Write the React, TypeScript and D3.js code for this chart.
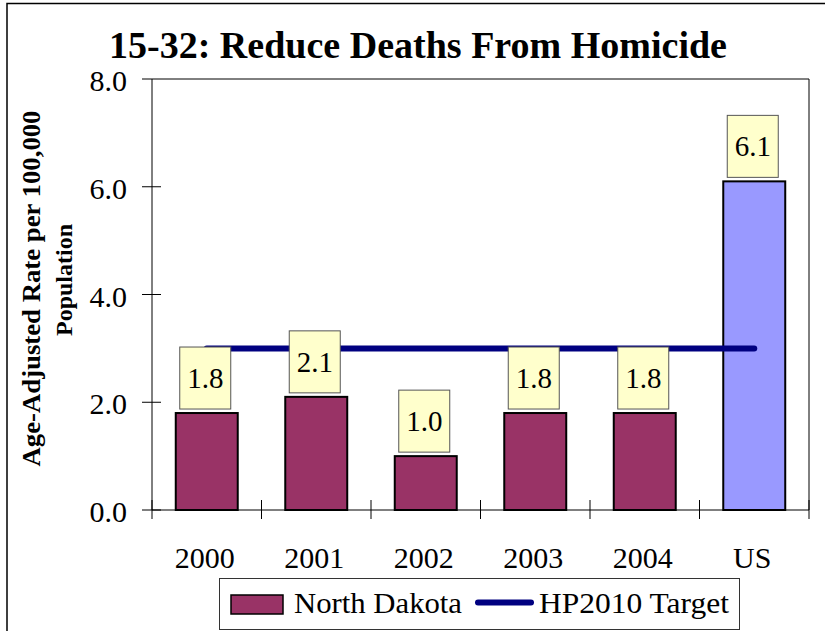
import React from "react";
import * as d3 from "d3";

const categories = ["2000", "2001", "2002", "2003", "2004", "US"];
const rates = [1.8, 2.1, 1.0, 1.8, 1.8, 6.1];
const targetRates = [3.0, 3.0, 3.0, 3.0, 3.0, 3.0];
const yTicks = [0, 2, 4, 6, 8];
const seriesNames = ["North Dakota", "HP2010 Target"];

const width = 825;
const height = 631;
const margin = { top: 79, right: 16, bottom: 121, left: 152 };

const serif = "'Liberation Serif', 'Times New Roman', serif";
const ndColor = "#993366";
const usColor = "#9999ff";
const targetColor = "#000080";

const App = () => {
    const x = d3
        .scaleBand<string>()
        .domain(categories)
        .range([margin.left, width - margin.right])
        .paddingInner(0.434)
        .paddingOuter(0.217);

    const y = d3
        .scaleLinear()
        .domain([0, 8])
        .range([height - margin.bottom, margin.top]);

    const gap = (x.step() - x.bandwidth()) / 2;
    const bounds = categories.map((c) => (x(c) || 0) - gap);
    bounds.push(width - margin.right);

    const y0 = y(0);
    const targetLine = d3
        .line<number>()
        .x((d, i) => (x(categories[i]) || 0) + x.bandwidth() / 2)
        .y((d) => y(d));

    return (
        <svg
            width={width}
            height={height}
            style={{ position: "absolute", left: 0, top: 0, background: "#fff" }}
            fontFamily={serif}
        >
            {/* outer frame */}
            <rect x={7} y={3.5} width={840} height={660} fill="none" stroke="#000" strokeWidth={1.5} />

            <text x={418} y={58} textAnchor="middle" fontSize={38.5} fontWeight="bold" textLength={618} lengthAdjust="spacingAndGlyphs">
                15-32: Reduce Deaths From Homicide
            </text>

            {/* y axis title */}
            <text
                transform="translate(40,288.5) rotate(-90)"
                textAnchor="middle"
                fontSize={25}
                fontWeight="bold"
                textLength={356}
                lengthAdjust="spacingAndGlyphs"
            >
                Age-Adjusted Rate per 100,000
            </text>
            <text
                transform="translate(72,280) rotate(-90)"
                textAnchor="middle"
                fontSize={24}
                fontWeight="bold"
            >
                Population
            </text>

            {/* plot frame top / right */}
            <line x1={margin.left} x2={width - margin.right} y1={y(8)} y2={y(8)} stroke="#000" />
            <line x1={width - margin.right} x2={width - margin.right} y1={y(8)} y2={y0} stroke="#000" />

            {/* y axis */}
            <line x1={margin.left} x2={margin.left} y1={y(8)} y2={y0} stroke="#000" />
            {yTicks.map((t) => (
                <g key={t}>
                    <line x1={margin.left - 10} x2={margin.left + (t === 8 ? 0 : 9)} y1={y(t)} y2={y(t)} stroke="#000" />
                    <text x={127} y={y(t) + 12} textAnchor="end" fontSize={30}>
                        {t.toFixed(1)}
                    </text>
                </g>
            ))}

            {/* bars */}
            {categories.map((c, i) => (
                <rect
                    key={c}
                    x={x(c)}
                    y={y(rates[i])}
                    width={x.bandwidth()}
                    height={y0 - y(rates[i])}
                    fill={c === "US" ? usColor : ndColor}
                    stroke="#000"
                    strokeWidth={2}
                />
            ))}

            {/* x axis */}
            <line x1={margin.left} x2={width - margin.right} y1={y0} y2={y0} stroke="#000" />
            {bounds.map((b, i) => (
                <line key={i} x1={b} x2={b} y1={y0 - 10} y2={y0 + 9} stroke="#000" />
            ))}
            {categories.map((c) => (
                <text
                    key={c}
                    x={(x(c) || 0) + x.bandwidth() / 2 - 2}
                    y={568}
                    textAnchor="middle"
                    fontSize={30}
                >
                    {c}
                </text>
            ))}

            {/* target line */}
            <path
                d={targetLine(targetRates) || ""}
                fill="none"
                stroke={targetColor}
                strokeWidth={6}
                strokeLinecap="round"
            />

            {/* value labels */}
            {categories.map((c, i) => {
                const cx = (x(c) || 0) + x.bandwidth() / 2 - 1.5;
                const bottom = y(rates[i]) - 4;
                return (
                    <g key={c}>
                        <rect
                            x={cx - 25.5}
                            y={bottom - 62}
                            width={51}
                            height={62}
                            fill="#ffffcc"
                            stroke="#555"
                            strokeWidth={1}
                        />
                        <text x={cx} y={bottom - 21} textAnchor="middle" fontSize={29}>
                            {rates[i].toFixed(1)}
                        </text>
                    </g>
                );
            })}

            {/* legend */}
            <rect x={219.5} y={578.5} width={520} height={51} fill="#fff" stroke="#333" strokeWidth={1} />
            <rect x={231} y={595} width={52} height={19} fill={ndColor} stroke="#000" strokeWidth={1.5} />
            <text x={294} y={613} fontSize={30} textLength={168} lengthAdjust="spacingAndGlyphs">
                {seriesNames[0]}
            </text>
            <line
                x1={478}
                x2={531}
                y1={602.5}
                y2={602.5}
                stroke={targetColor}
                strokeWidth={6}
                strokeLinecap="round"
            />
            <text x={539} y={613} fontSize={30} textLength={190} lengthAdjust="spacingAndGlyphs">
                {seriesNames[1]}
            </text>
        </svg>
    );
};

export default App;
